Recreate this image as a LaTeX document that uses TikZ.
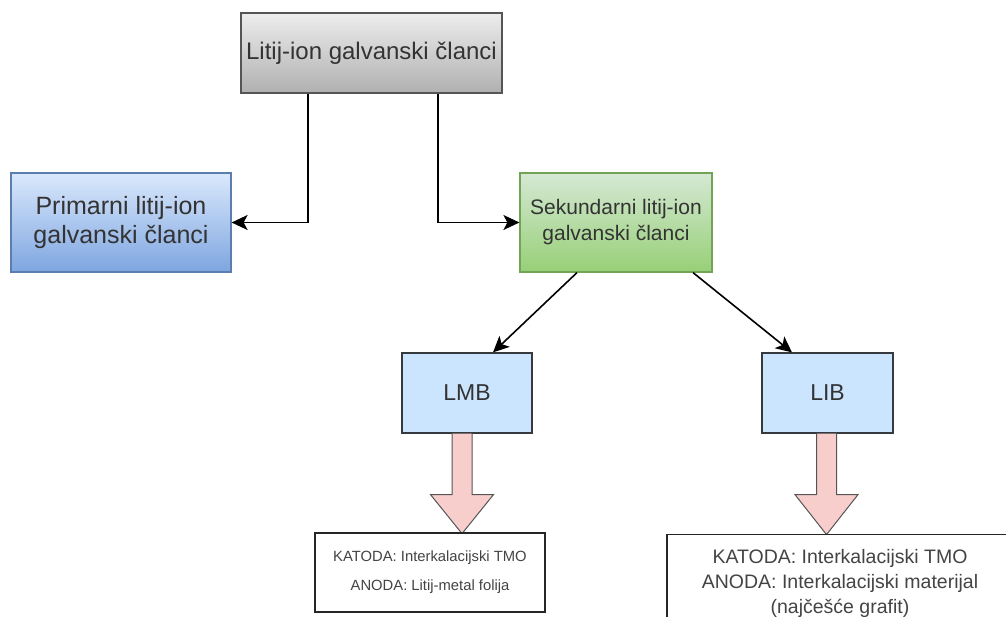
\documentclass[tikz,border=0pt]{standalone}
\usepackage{fontspec}
\setmainfont{Liberation Sans}
\usetikzlibrary{arrows.meta,positioning}
\definecolor{txt}{HTML}{333333}
\definecolor{graytop}{HTML}{EDEDED}
\definecolor{graybot}{HTML}{B0B0B0}
\definecolor{grayline}{HTML}{555555}
\definecolor{bluetop}{HTML}{DAE8FC}
\definecolor{bluebot}{HTML}{7EA6E0}
\definecolor{blueline}{HTML}{5C7EAF}
\definecolor{greentop}{HTML}{D5E8D4}
\definecolor{greenbot}{HTML}{97D077}
\definecolor{greenline}{HTML}{72A356}
\definecolor{lightblue}{HTML}{CCE5FF}
\definecolor{darkline}{HTML}{36393D}
\definecolor{pinkfill}{HTML}{F8CECC}
\definecolor{arrowline}{HTML}{555555}
\definecolor{notetxt}{HTML}{444444}
\tikzset{
  box/.style={rectangle, inner sep=0pt, align=center, text=txt, line width=1.2pt},
  graybox/.style={box, draw=grayline, top color=graytop, bottom color=graybot},
  bluebox/.style={box, draw=blueline, top color=bluetop, bottom color=bluebot},
  greenbox/.style={box, draw=greenline, top color=greentop, bottom color=greenbot},
  flatbox/.style={box, draw=darkline, fill=lightblue},
  notebox/.style={rectangle, inner sep=0pt, draw=black!85, fill=white, line width=1.2pt, align=center, text=notetxt},
  conn/.style={line width=1.6pt, draw=black, -{Stealth[length=16pt,width=15pt,inset=4pt]}},
  blockarrow/.pic={
    \draw[fill=pinkfill, draw=arrowline, line width=1pt, line join=miter]
      (-10,0) -- (-10,61) -- (-31.5,61) -- (0,#1) -- (31.5,61) -- (10,61) -- (10,0);
  },
  blockarrow/.default=100
}
\begin{document}
\begin{tikzpicture}[x=1pt,y=-1pt]
\useasboundingbox (0,0) rectangle (1006,617);
\clip (0,0) rectangle (1006,617);
\fill[white] (0,0) rectangle (1006,617);

\node[graybox, minimum width=261pt, minimum height=80pt, font=\fontsize{24}{28}\selectfont]
  (top) at (371.5,53) {Litij-ion galvanski članci};
\node[bluebox, minimum width=220pt, minimum height=99pt, font=\fontsize{25}{29}\selectfont]
  (prim) at (121,222.5) {Primarni litij-ion\\galvanski članci};
\node[greenbox, minimum width=192pt, minimum height=99pt, font=\fontsize{21}{26}\selectfont]
  (sek) at (616,222.5) {Sekundarni litij-ion\\galvanski članci};
\node[flatbox, minimum width=130pt, minimum height=80pt, font=\fontsize{23}{27}\selectfont]
  (lmb) at (467,393) {LMB};
\node[flatbox, minimum width=131pt, minimum height=80pt, font=\fontsize{23}{27}\selectfont]
  (lib) at (827.5,393) {LIB};

\pic at ([xshift=-5pt]lmb.south) {blockarrow=100};
\pic at ([xshift=-1pt]lib.south) {blockarrow=101};

\node[notebox, minimum width=230pt, minimum height=79pt, font=\fontsize{14.8}{29}\selectfont]
  (lmbtxt) at (430,572.5) {\rule{0pt}{6pt}KATODA: Interkalacijski TMO\\ANODA: Litij-metal folija};
\node[notebox, minimum width=346pt, minimum height=120pt, anchor=north, font=\fontsize{19.5}{25}\selectfont]
  (libtxt) at (840,534) {\rule{0pt}{24pt}KATODA: Interkalacijski TMO\\ANODA: Interkalacijski materijal\\(najčešće grafit)\\[12pt]\mbox{}};

\draw[conn] ([xshift=-63.5pt]top.south) |- (prim.east);
\draw[conn] ([xshift=66.5pt]top.south) |- (sek.west);
\draw[conn] ([xshift=-39pt]sek.south) -- ([xshift=26pt]lmb.north);
\draw[conn] ([xshift=77pt]sek.south) -- ([xshift=-35.5pt]lib.north);
\end{tikzpicture}
\end{document}
